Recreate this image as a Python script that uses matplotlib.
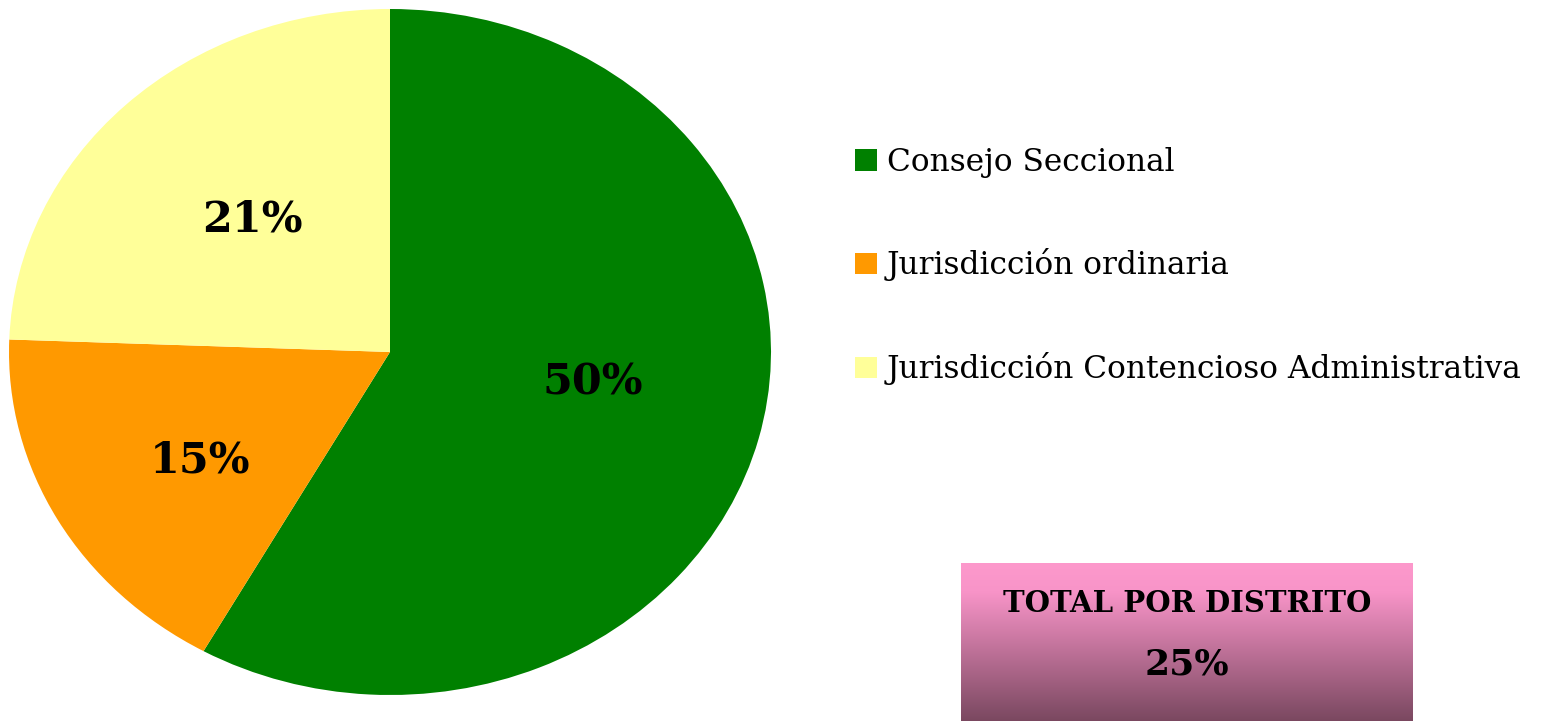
import matplotlib.pyplot as plt
import numpy as np
from matplotlib.colors import LinearSegmentedColormap

categories = ["Consejo Seccional", "Jurisdicción ordinaria",
              "Jurisdicción Contencioso Administrativa"]
values = [50, 15, 21]
colors = ["#008000", "#FF9900", "#FFFF99"]
total_label = "TOTAL POR DISTRITO"
total_value = "25%"

W, H = 1543, 721
fig = plt.figure(figsize=(W / 100, H / 100), dpi=100)
plt.rcParams["font.family"] = ["DejaVu Serif"]


def px_axes(x0, y0, x1, y1):
    # pixel box (top-left origin) -> figure axes
    return fig.add_axes([x0 / W, 1 - y1 / H, (x1 - x0) / W, (y1 - y0) / H])


# ── pie (stretched to an ellipse, like the original) ──────────────────────
ax = px_axes(9, 9, 771, 695)
wedges, texts, autotexts = ax.pie(
    values, colors=colors, startangle=90, counterclock=False,
    autopct="%1.0f%%", pctdistance=0.55,
    wedgeprops=dict(linewidth=0),
    textprops=dict(fontsize=31, fontweight="bold", color="black"))
for t, v in zip(autotexts, values):
    t.set_text(f"{v}%")
# small nudges so labels sit where the original puts them
nudges = [(0.0, 0.05), (-0.02, -0.048), (0.02, -0.01)]
for t, (dx, dy) in zip(autotexts, nudges):
    x, y = t.get_position()
    t.set_position((x + dx, y + dy))
ax.set_aspect("auto")
ax.set_xlim(-1, 1)
ax.set_ylim(-1, 1)
ax.axis("off")

# ── legend ────────────────────────────────────────────────────────────────
fig.legend(wedges, categories, loc="upper left",
           bbox_to_anchor=(843 / W, 1 - 134 / H), frameon=False,
           fontsize=22.5, handlelength=0.7, handleheight=0.7,
           handletextpad=0.3, labelspacing=2.27, borderaxespad=0)

# ── total box with vertical gradient ──────────────────────────────────────
bax = px_axes(961, 563, 1413, 721)
cmap = LinearSegmentedColormap.from_list(
    "box", [(0.0, "#FD99CC"), (0.18, "#F894C8"), (1.0, "#7A4860")])
grad = np.linspace(0, 1, 256).reshape(-1, 1)
bax.imshow(grad, cmap=cmap, aspect="auto", extent=(0, 1, 0, 1), origin="upper")
bax.set_xlim(0, 1)
bax.set_ylim(0, 1)
bax.axis("off")
bax.text(0.5, 0.745, total_label, ha="center", va="center",
         fontsize=21, fontweight="bold")
bax.text(0.5, 0.355, total_value, ha="center", va="center",
         fontsize=26, fontweight="bold")

fig.savefig("out.png", dpi=100)
